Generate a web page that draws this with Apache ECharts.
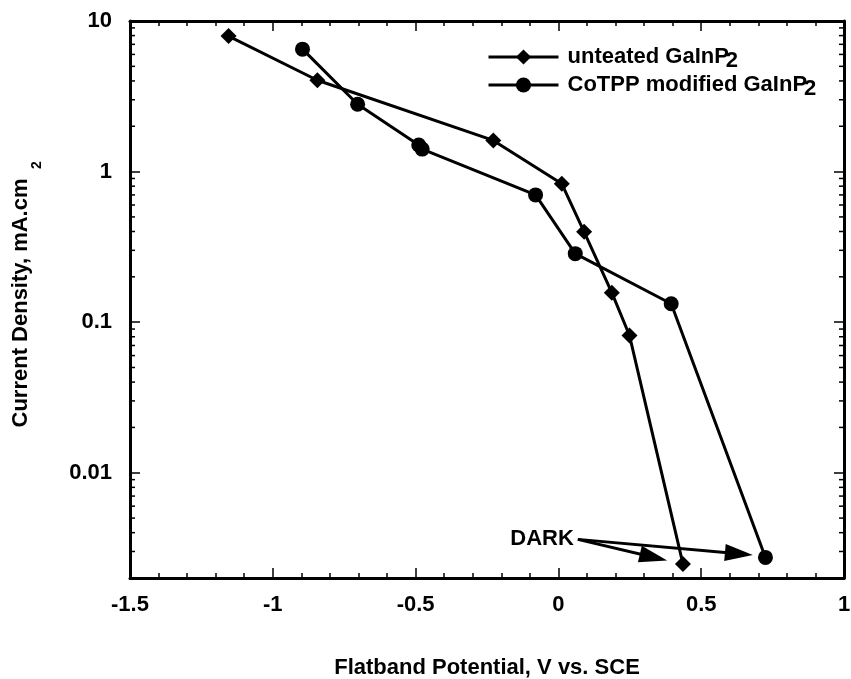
<!DOCTYPE html>
<html><head><meta charset="utf-8">
<script src="https://cdn.jsdelivr.net/npm/echarts@6/dist/echarts.min.js"></script>
<style>html,body{margin:0;padding:0;background:#fff}#c{width:851px;height:679px}</style>
</head><body><div id="c"></div>
<script>
// ---- data ----
const untreatedName = 'unteated GaInP';
const untreatedX = [-1.155, -0.844, -0.228, 0.012, 0.09, 0.187, 0.249, 0.436];
const untreatedY = [7.94, 4.04, 1.61, 0.83, 0.398, 0.157, 0.0815, 0.00248];
const cotppName = 'CoTPP modified GaInP';
const cotppX = [-0.896, -0.703, -0.489, -0.477, -0.08, 0.059, 0.395, 0.725];
const cotppY = [6.5, 2.8, 1.5, 1.41, 0.70, 0.285, 0.1325, 0.00274];
const xMin = -1.5, xMax = 1, xStep = 0.5;
const yMin = 0.002, yMax = 10;
const yTickValues = [0.01, 0.1, 1, 10];
const yTickLabels = ['0.01', '0.1', '1', '10'];
const darkStart = [0.068, 0.00361];
const darkEnds = [[0.333, 0.00275], [0.632, 0.0029]];
const xTitle = 'Flatband Potential, V vs. SCE';
const yTitle = 'Current Density, mA.cm';

// minor log ticks (2..9 per decade)
const minorY = [];
for (let e = -3; e <= 0; e++) for (let m = 2; m <= 9; m++) {
  const v = +(m * Math.pow(10, e)).toPrecision(3);
  if (v > yMin && v < yMax) minorY.push(v);
}

const FONT = '"Liberation Sans", Arial, sans-serif';
const FS = 22;
const pair = (xs, ys) => xs.map((x, i) => [x, ys[i]]);

const chart = echarts.init(document.getElementById('c'), null, {renderer: 'canvas'});
const axisLine = {show: true, onZero: false, lineStyle: {color: '#000', width: 3}};
const tick = {show: true, inside: true, length: 10, lineStyle: {color: '#000', width: 1.5}};
const minor = {show: true, splitNumber: 5, length: 5, lineStyle: {color: '#000', width: 1.5}};
const xLabel = {fontFamily: FONT, fontSize: FS, fontWeight: 'bold', color: '#000', margin: 16};
const yFmt = v => {
  for (let i = 0; i < yTickValues.length; i++)
    if (Math.abs(Math.log10(v) - Math.log10(yTickValues[i])) < 1e-6) return yTickLabels[i];
  return '';
};

const option = {
  animation: false,
  backgroundColor: '#fff',
  grid: {left: 130, right: 7, top: 21, bottom: 101, containLabel: false, outerBoundsMode: 'none'},
  xAxis: [
    {type: 'value', min: xMin, max: xMax, interval: xStep, position: 'bottom',
     axisLine, axisTick: tick, minorTick: minor, splitLine: {show: false}, minorSplitLine: {show: false},
     axisLabel: xLabel,
     name: xTitle, nameLocation: 'middle', nameGap: 79,
     nameTextStyle: {fontFamily: FONT, fontSize: FS, fontWeight: 'bold', color: '#000'}},
    {type: 'value', min: xMin, max: xMax, interval: xStep, position: 'top',
     axisLine, axisTick: tick, minorTick: minor, splitLine: {show: false},
     axisLabel: {show: false}}
  ],
  yAxis: [
    {type: 'log', logBase: 10, min: yMin, max: yMax, position: 'left',
     axisLine, axisTick: tick, splitLine: {show: false},
     axisLabel: {fontFamily: FONT, fontSize: FS, fontWeight: 'bold', color: '#000', margin: 18, formatter: yFmt}},
    {type: 'log', logBase: 10, min: yMin, max: yMax, position: 'right',
     axisLine, axisTick: tick, splitLine: {show: false}, axisLabel: {show: false}}
  ],
  legend: {
    orient: 'vertical', left: 482, top: 41, itemWidth: 70, itemHeight: 19, itemGap: 2,
    data: [untreatedName, cotppName],
    lineStyle: {width: 3, color: '#000'},
    formatter: n => '{a|' + n + '}{b|2}',
    textStyle: {
      color: '#000',
      rich: {
        a: {fontFamily: FONT, fontSize: FS, fontWeight: 'bold', color: '#000', padding: [0, 0, 0, 4]},
        b: {fontFamily: FONT, fontSize: FS, fontWeight: 'bold', color: '#000', padding: [8, 0, 0, -3]}
      }
    }
  },
  series: [
    {name: untreatedName, type: 'line', data: pair(untreatedX, untreatedY),
     symbol: 'diamond', symbolSize: 16, lineStyle: {color: '#000', width: 3},
     itemStyle: {color: '#000'}, z: 3},
    {name: cotppName, type: 'line', data: pair(cotppX, cotppY),
     symbol: 'circle', symbolSize: 15, lineStyle: {color: '#000', width: 3},
     itemStyle: {color: '#000'}, z: 3,
     markLine: {
       silent: true, symbol: ['none', 'triangle'], symbolSize: [17, 28],
       lineStyle: {color: '#000', width: 3, type: 'solid'}, label: {show: false},
       data: darkEnds.map(e => [{coord: darkStart}, {coord: e}])
     },
     markPoint: {
       silent: true, symbol: 'circle', symbolSize: 0,
       data: [{coord: darkStart}],
       label: {show: true, formatter: 'DARK', position: 'left', distance: 4,
               fontFamily: FONT, fontSize: FS, fontWeight: 'bold', color: '#000'}
     }},
    {type: 'custom', silent: true, z: 5,
     data: minorY.map(v => [xMin, v]),
     renderItem: (params, api) => {
       const cs = params.coordSys;
       const y = api.coord([api.value(0), api.value(1)])[1];
       const st = {stroke: '#000', lineWidth: 1.5};
       return {type: 'group', children: [
         {type: 'line', shape: {x1: cs.x, y1: y, x2: cs.x + 5, y2: y}, style: st},
         {type: 'line', shape: {x1: cs.x + cs.width - 5, y1: y, x2: cs.x + cs.width, y2: y}, style: st}
       ]};
     }}
  ],
  graphic: [
    {type: 'text', rotation: Math.PI / 2, x: 21, y: 303,
     style: {text: yTitle, font: 'bold ' + FS + 'px ' + FONT, fill: '#000', align: 'center', verticalAlign: 'middle'}},
    {type: 'text', rotation: Math.PI / 2, x: 37, y: 165,
     style: {text: '2', font: 'bold 14px ' + FONT, fill: '#000', align: 'center', verticalAlign: 'middle'}}
  ]
};
chart.setOption(option);
</script>
</body></html>
